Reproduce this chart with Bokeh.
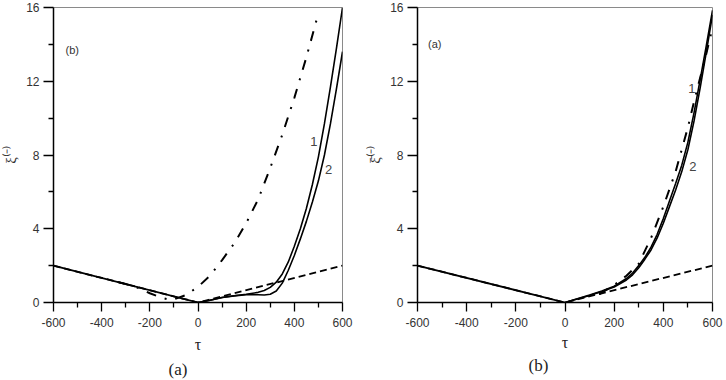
from bokeh.plotting import figure
from bokeh.layouts import row
from bokeh.models import FixedTicker, Label, Title, Range1d
from bokeh.embed import file_html
from bokeh.resources import INLINE

# ---- ticks ----
x_ticks = [-600, -400, -200, 0, 200, 400, 600]
x_tick_labels = ["-600", "-400", "-200", "0", "200", "400", "600"]
x_minor = [-500, -300, -100, 100, 300, 500]
y_ticks = [0, 4, 8, 12, 16]
y_tick_labels = ["0", "4", "8", "12", "16"]
y_minor = [2, 6, 10, 14]

# ---- shared straight lines ----
solid_neg_x = [-600, 0]
solid_neg_y = [2.0, 0.0]
dashed_x = [-600, 0, 600]
dashed_y = [2.0, 0.0, 2.0]

# ---- panel (a) (inset "(b)") ----
a_c1_x = [0, 50, 100, 150, 200, 250, 275, 300, 325, 350, 375, 400, 425, 450, 475, 500, 525, 550, 575, 600]
a_c1_y = [0, 0.12, 0.27, 0.37, 0.45, 0.55, 0.65, 0.82, 1.1, 1.55, 2.2, 3.05, 4.0, 5.1, 6.4, 7.9, 9.7, 11.7, 13.8, 16.0]
a_c2_x = [0, 50, 100, 150, 200, 250, 275, 300, 325, 350, 375, 400, 425, 450, 475, 500, 525, 550, 575, 600]
a_c2_y = [0, 0.12, 0.27, 0.36, 0.42, 0.42, 0.41, 0.45, 0.62, 1.05, 1.75, 2.55, 3.45, 4.4, 5.45, 6.6, 8.0, 9.7, 11.6, 13.6]
a_dd_x = [-330, -300, -250, -200, -150, -110, -50, 0, 50, 100, 150, 200, 250, 300, 350, 400, 450, 495]
a_dd_y = [1.1, 1.0, 0.8, 0.5, 0.25, 0.13, 0.4, 0.85, 1.45, 2.3, 3.2, 4.3, 5.6, 7.3, 9.1, 11.1, 13.3, 15.45]

# ---- panel (b) (inset "(a)") ----
b_c1_x = [0, 50, 100, 150, 200, 250, 275, 300, 325, 350, 375, 400, 425, 450, 475, 500, 525, 550, 575, 600]
b_c1_y = [0, 0.2, 0.4, 0.62, 0.88, 1.3, 1.6, 2.0, 2.45, 3.0, 3.7, 4.55, 5.5, 6.45, 7.45, 8.7, 10.3, 12.1, 13.95, 15.85]
b_c2_x = [0, 50, 100, 150, 200, 250, 275, 300, 325, 350, 375, 400, 425, 450, 475, 500, 525, 550, 575, 600]
b_c2_y = [0, 0.19, 0.38, 0.6, 0.84, 1.22, 1.5, 1.88, 2.35, 2.85, 3.5, 4.3, 5.2, 6.1, 7.1, 8.3, 9.85, 11.65, 13.6, 15.6]
b_dd_x = [140, 200, 250, 300, 350, 400, 450, 475, 500, 525, 550, 575, 600]
b_dd_y = [0.45, 0.95, 1.45, 2.1, 3.5, 5.2, 7.1, 8.3, 9.5, 10.9, 12.2, 13.5, 14.9]

SANS = "Liberation Sans"
SERIF = "Liberation Serif"


def make_panel(ylabel, inset, inset_pos, bottom, c1, c2, dd, lab1, lab2,
               border_left, border_right, title_offset, title_standoff, xlab_standoff):
    p = figure(width=363, height=380, output_backend="svg", toolbar_location=None,
               x_range=Range1d(-600, 600), y_range=Range1d(0, 16),
               min_border_left=border_left, min_border_right=border_right,
               min_border_top=7, min_border_bottom=10)
    p.grid.visible = False
    p.background_fill_color = "white"
    p.border_fill_color = "white"
    p.outline_line_color = "#8a8a8a"
    p.outline_line_width = 1

    for ax in (p.xaxis, p.yaxis):
        ax.axis_line_color = "black"
        ax.axis_line_width = 1.5
        ax.major_tick_line_color = "black"
        ax.minor_tick_line_color = "black"
        ax.major_tick_line_width = 1.3
        ax.minor_tick_line_width = 1.3
        ax.major_tick_in = 0
        ax.minor_tick_in = 0
        ax.major_label_text_font = SANS
        ax.major_label_text_font_size = "12px"
        ax.major_label_text_color = "#333333"

    p.xaxis.ticker = FixedTicker(ticks=x_ticks, minor_ticks=x_minor)
    p.xaxis.major_label_overrides = dict(zip(x_ticks, x_tick_labels))
    p.xaxis.major_tick_out = 9
    p.xaxis.minor_tick_out = 5
    p.xaxis.major_label_standoff = 6
    p.xaxis.axis_label = "τ"
    p.xaxis.axis_label_text_font = SERIF
    p.xaxis.axis_label_text_font_style = "normal"
    p.xaxis.axis_label_text_font_size = "16px"
    p.xaxis.axis_label_text_color = "#222222"
    p.xaxis.axis_label_standoff = xlab_standoff

    p.yaxis.ticker = FixedTicker(ticks=y_ticks, minor_ticks=y_minor)
    p.yaxis.major_label_overrides = dict(zip(y_ticks, y_tick_labels))
    p.yaxis.major_tick_out = 10
    p.yaxis.minor_tick_out = 5
    p.yaxis.major_label_standoff = 4
    p.yaxis.axis_label = ylabel
    p.yaxis.axis_label_text_font = SERIF
    p.yaxis.axis_label_text_font_style = "normal"
    p.yaxis.axis_label_text_font_size = "15px"
    p.yaxis.axis_label_text_color = "#333333"
    p.yaxis.axis_label_standoff = 4

    # lines
    p.line(dashed_x, dashed_y, line_color="black", line_width=1.8, line_dash="7 4")
    p.line(dd[0], dd[1], line_color="black", line_width=2.0, line_dash="10 9 2 9")
    p.line(solid_neg_x, solid_neg_y, line_color="black", line_width=1.8)
    p.line(c1[0], c1[1], line_color="black", line_width=1.6)
    p.line(c2[0], c2[1], line_color="black", line_width=1.6)

    p.add_layout(Label(x=inset_pos[0], y=inset_pos[1], text=inset, text_font=SANS,
                       text_font_size="11px", text_color="#333333",
                       text_baseline="middle", text_align="left"))
    p.add_layout(Label(x=lab1[0], y=lab1[1], text="1", text_font=SANS,
                       text_font_size="13px", text_color="#444444",
                       text_baseline="middle", text_align="center"))
    p.add_layout(Label(x=lab2[0], y=lab2[1], text="2", text_font=SANS,
                       text_font_size="13px", text_color="#444444",
                       text_baseline="middle", text_align="center"))

    t = Title(text=bottom, align="left", text_font=SERIF, text_font_size="17px",
              text_font_style="normal", text_color="#222222", offset=title_offset,
              standoff=title_standoff)
    p.add_layout(t, "below")
    return p


p1 = make_panel("ξ⁽⁻⁾", "(b)", (-550, 13.7), "(a)",
                (a_c1_x, a_c1_y), (a_c2_x, a_c2_y), (a_dd_x, a_dd_y),
                (481, 8.75), (542, 7.2), 48, 21, 115, 4, 6)
p2 = make_panel("ξ̄⁽⁻⁾", "(a)", (-557, 14.0), "(b)",
                (b_c1_x, b_c1_y), (b_c2_x, b_c2_y), (b_dd_x, b_dd_y),
                (516, 11.6), (520, 7.4), 54, 14, 111, 0, 4)

layout = row(p1, p2)
open("out.html", "w").write(file_html(layout, INLINE))
